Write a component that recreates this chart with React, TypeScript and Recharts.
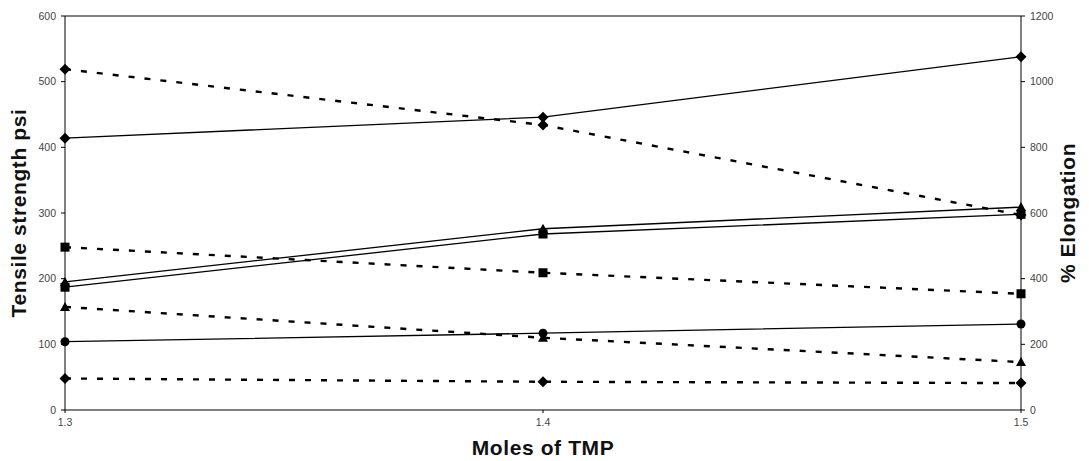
import React from "react";
import { LineChart, Line, XAxis, YAxis, ReferenceLine, Label } from "recharts";

const moles = [1.3, 1.4, 1.5];
const leftTicks = [0, 100, 200, 300, 400, 500, 600];
const rightTicks = [0, 200, 400, 600, 800, 1000, 1200];

// Tensile strength (psi), solid lines, left axis
const tensileA = [414, 446, 538];
const tensileB = [195, 276, 309];
const tensileC = [187, 268, 298];
const tensileD = [104, 117, 131];

// % Elongation, dashed lines, right axis
const elongA = [1038, 868, 594];
const elongB = [496, 418, 354];
const elongC = [314, 220, 146];
const elongD = [96, 86, 82];

const data = moles.map((m, i) => ({
  m,
  tA: tensileA[i],
  tB: tensileB[i],
  tC: tensileC[i],
  tD: tensileD[i],
  eA: elongA[i],
  eB: elongB[i],
  eC: elongC[i],
  eD: elongD[i],
}));

const FONT = "'Liberation Sans', Arial, Helvetica, sans-serif";

const makeDot = (shape: string) => (props: any) => {
  const { cx, cy, key } = props;
  if (cx == null || cy == null) return <g key={key} />;
  if (shape === "diamond") {
    const s = 5.5;
    return (
      <path key={key} d={`M${cx},${cy - s}L${cx + s},${cy}L${cx},${cy + s}L${cx - s},${cy}Z`} fill="#000" />
    );
  }
  if (shape === "square") {
    const s = 4.5;
    return <rect key={key} x={cx - s} y={cy - s} width={2 * s} height={2 * s} fill="#000" />;
  }
  if (shape === "triangle") {
    const s = 5;
    return (
      <path key={key} d={`M${cx},${cy - s}L${cx + s},${cy + s * 0.8}L${cx - s},${cy + s * 0.8}Z`} fill="#000" />
    );
  }
  return <circle key={key} cx={cx} cy={cy} r={4.5} fill="#000" />;
};

const solid = { stroke: "#000", strokeWidth: 1.3, isAnimationActive: false, activeDot: false as const };
const dashed = {
  stroke: "#000",
  strokeWidth: 2.4,
  strokeDasharray: "6 10",
  isAnimationActive: false,
  activeDot: false as const,
};

const tickStyle = { fontSize: 10.5, fill: "#444", fontFamily: FONT };
const titleStyle = {
  fontSize: 21,
  fontWeight: "bold",
  fill: "#111",
  fontFamily: FONT,
  textAnchor: "middle",
  letterSpacing: 0.6,
} as any;

export default function App() {
  return (
    <div style={{ position: "absolute", left: 0, top: 0, background: "#fff" }}>
      <LineChart
        width={1089}
        height={461}
        data={data}
        margin={{ top: 16, right: 28, bottom: 21, left: 25 }}
        style={{ fontFamily: FONT }}
      >
        <XAxis
          dataKey="m"
          type="number"
          domain={[1.3, 1.5]}
          ticks={moles}
          tickFormatter={(v: number) => v.toFixed(1)}
          height={30}
          stroke="#000"
          tickSize={3}
          tickMargin={6}
          tick={tickStyle}
        >
          <Label value="Moles of TMP" position="center" dy={23} style={titleStyle} />
        </XAxis>
        <YAxis
          yAxisId="left"
          domain={[0, 600]}
          ticks={leftTicks}
          width={40}
          stroke="#000"
          tickSize={4}
          tickMargin={5}
          tick={tickStyle}
        >
          <Label value="Tensile strength psi" position="center" angle={-90} dx={-26} style={titleStyle} />
        </YAxis>
        <YAxis
          yAxisId="right"
          orientation="right"
          domain={[0, 1200]}
          ticks={rightTicks}
          width={40}
          stroke="#000"
          tickSize={4}
          tickMargin={5}
          tick={tickStyle}
        >
          <Label value="% Elongation" position="center" angle={-90} dx={27} style={titleStyle} />
        </YAxis>
        <ReferenceLine yAxisId="left" y={600} stroke="#000" strokeWidth={1} />
        <Line yAxisId="left" dataKey="tA" {...solid} dot={makeDot("diamond")} />
        <Line yAxisId="left" dataKey="tB" {...solid} dot={makeDot("triangle")} />
        <Line yAxisId="left" dataKey="tC" {...solid} dot={makeDot("square")} />
        <Line yAxisId="left" dataKey="tD" {...solid} dot={makeDot("circle")} />
        <Line yAxisId="right" dataKey="eA" {...dashed} dot={makeDot("diamond")} />
        <Line yAxisId="right" dataKey="eB" {...dashed} dot={makeDot("square")} />
        <Line yAxisId="right" dataKey="eC" {...dashed} dot={makeDot("triangle")} />
        <Line yAxisId="right" dataKey="eD" {...dashed} dot={makeDot("diamond")} />
      </LineChart>
    </div>
  );
}
